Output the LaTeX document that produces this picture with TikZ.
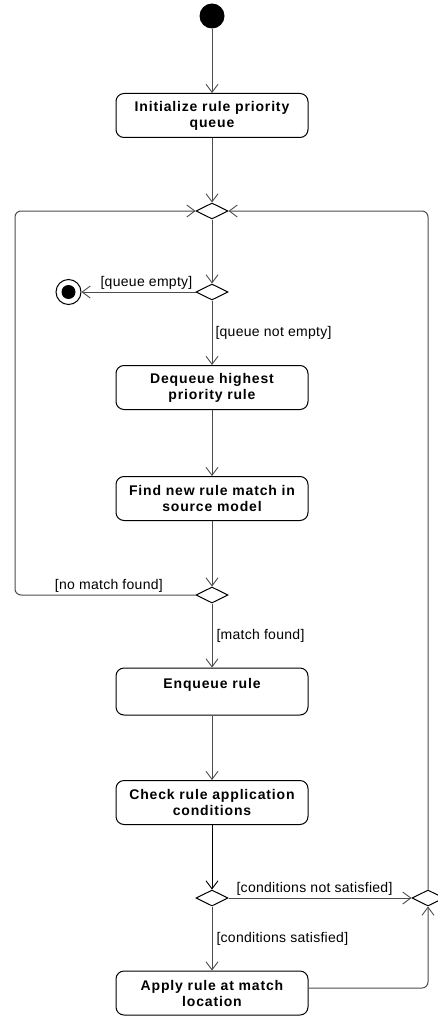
\documentclass[tikz,border=0pt]{standalone}
\usepackage{fontspec}
\setmainfont{Liberation Sans}
\newfontfamily\actfont[LetterSpace=6]{Liberation Sans}
\newfontfamily\guardfont[LetterSpace=2]{Liberation Sans}
\usetikzlibrary{arrows.meta,shapes.geometric}
\begin{document}
\begin{tikzpicture}[x=1pt,y=-1pt,
  act/.style={draw=black, rounded corners=8pt, minimum width=192pt, minimum height=44pt,
    font=\actfont\bfseries\fontsize{14}{16}\selectfont, align=center, line width=1pt, inner sep=2pt},
  dec/.style={draw=black, diamond, aspect=2, minimum width=32pt, minimum height=16pt, inner sep=0pt, line width=1pt},
  flow/.style={draw=black!70, line width=1pt, -{Straight Barb[length=8pt,width=12pt,line width=0.9pt]}},
  guard/.style={font=\guardfont\fontsize{14}{16}\selectfont, inner sep=2pt}
]
\useasboundingbox (0,0) rectangle (437,1019);
\node[circle, fill=black, minimum size=25pt, inner sep=0pt] (init) at (212,16) {};
\node[act] (a1) at (212,115.5) {Initialize rule priority\\queue};
\node[dec] (m1) at (212,211) {};
\node[dec] (d1) at (212,292) {};
\node[circle, draw=black, line width=1pt, minimum size=25pt, inner sep=0pt] (final) at (68.5,292) {};
\fill (final.center) circle (7pt);
\node[act] (a2) at (212,387.5) {Dequeue highest\\priority rule};
\node[act] (a3) at (212,498.5) {Find new rule match in\\source model};
\node[dec] (d2) at (212,595) {};
\node[act, minimum height=47pt] (a4) at (212,691.5) {Enqueue rule\\~};
\node[act] (a5) at (212,802.5) {Check rule application\\conditions};
\node[dec] (d3) at (212,898) {};
\node[dec] (d4) at (428,898) {};
\node[act] (a6) at (212,993) {Apply rule at match\\location};
\coordinate (lb) at (15,595);
\coordinate (lt) at (15,211);
\coordinate (rb) at (428,988);
\coordinate (rt) at (428,211);

\draw[flow] (init) -- (a1);
\draw[flow] (a1) -- (m1);
\draw[flow] (m1) -- (d1);
\draw[flow] (d1) -- node[guard, above, pos=0.43] {[queue empty]} (final);
\draw[flow] (d1) -- node[guard, right, xshift=1pt] {[queue not empty]} (a2);
\draw[flow] (a2) -- (a3);
\draw[flow] (a3) -- (d2);
\draw[flow, rounded corners=6pt] (d2.west) -- node[guard, above, pos=0.48] {[no match found]} (lb) -- (lt) -- (m1.west);
\draw[flow] (d2) -- node[guard, right, xshift=2pt] {[match found]} (a4);
\draw[flow] (a4) -- (a5);
\draw[flow, draw=black] (a5) -- (d3);
\draw[flow] (d3) -- node[guard, above, pos=0.47] {[conditions not satisfied]} (d4);
\draw[flow] (d3) -- node[guard, right, xshift=2pt] {[conditions satisfied]} (a6);
\draw[flow, rounded corners=6pt] (a6.east |- rb) -- (rb) -- (d4.south);
\draw[flow, rounded corners=6pt] (d4.north) -- (rt) -- (m1.east);
\end{tikzpicture}
\end{document}
